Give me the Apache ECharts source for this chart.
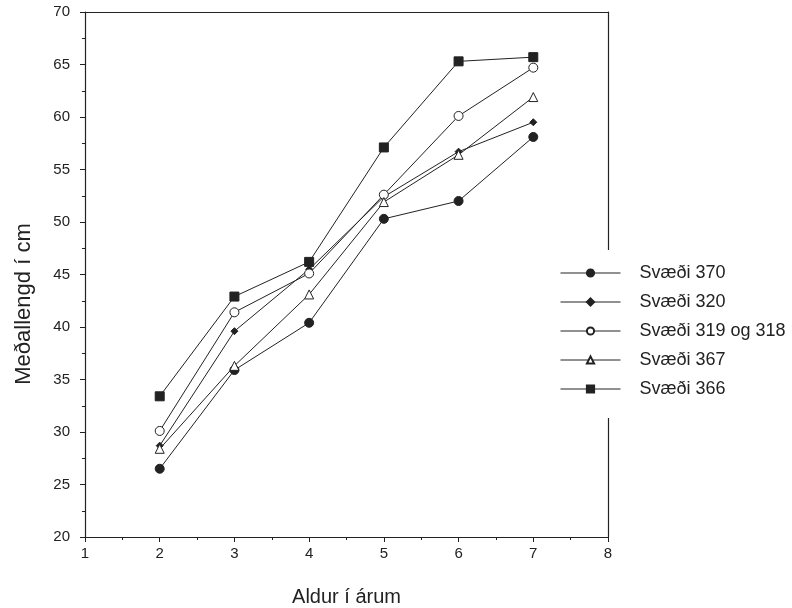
<!DOCTYPE html>
<html><head><meta charset="utf-8">
<script src="https://cdn.jsdelivr.net/npm/echarts@6/dist/echarts.min.js"></script>
<style>html,body{margin:0;padding:0;background:#fff}#c{width:792px;height:608px}</style>
</head><body><div id="c"></div>
<script>
const ages = [2, 3, 4, 5, 6, 7];
const s370 = [26.5, 35.9, 40.4, 50.3, 52.0, 58.1];
const s320 = [28.7, 39.6, 45.5, 52.4, 56.7, 59.5];
const s319 = [30.1, 41.4, 45.1, 52.6, 60.1, 64.7];
const s367 = [28.4, 36.3, 43.1, 51.9, 56.4, 61.9];
const s366 = [33.4, 42.9, 46.2, 57.1, 65.3, 65.7];
const names = ['Svæði 370', 'Svæði 320', 'Svæði 319 og 318', 'Svæði 367', 'Svæði 366'];
const xTitle = 'Aldur í árum';
const yTitle = 'Meðallengd í cm';

const ink = '#222';
const font = 'Liberation Sans, Arial, sans-serif';
function mk(name, data, symbol, size, fill) {
  return {
    name, type: 'line', data: ages.map((a, i) => [a, data[i]]),
    symbol, symbolSize: size, showSymbol: true,
    lineStyle: { color: ink, width: 1 },
    itemStyle: { color: fill, borderColor: ink, borderWidth: 1 },
    emphasis: { disabled: true }, z: 3
  };
}
const chart = echarts.init(document.getElementById('c'));
chart.setOption({
  animation: false,
  backgroundColor: '#fff',
  grid: { left: 85, right: 184, top: 12, bottom: 71, containLabel: false, outerBoundsMode: 'none' },
  xAxis: [{
    type: 'value', min: 1, max: 8, interval: 1,
    name: xTitle, nameLocation: 'middle', nameGap: 50,
    nameTextStyle: { fontFamily: font, fontSize: 20, color: ink },
    axisLine: { show: true, lineStyle: { color: ink, width: 1.2 } },
    axisTick: { show: true, length: 5, lineStyle: { color: ink } },
    minorTick: { show: true, splitNumber: 2, length: 3, lineStyle: { color: ink } },
    axisLabel: { fontFamily: font, fontSize: 15, color: ink, margin: 9 },
    splitLine: { show: false }
  }, {
    type: 'value', min: 1, max: 8, position: 'top',
    axisLine: { show: true, lineStyle: { color: ink, width: 1.2 } },
    axisTick: { show: false }, axisLabel: { show: false }, splitLine: { show: false }
  }],
  yAxis: [{
    type: 'value', min: 20, max: 70, interval: 5,
    axisLine: { show: true, lineStyle: { color: ink, width: 1.2 } },
    axisTick: { show: true, length: 5, lineStyle: { color: ink } },
    minorTick: { show: true, splitNumber: 2, length: 3, lineStyle: { color: ink } },
    axisLabel: { fontFamily: font, fontSize: 15, color: ink, margin: 15 },
    splitLine: { show: false }
  }, {
    type: 'value', min: 20, max: 70, position: 'right',
    axisLine: { show: true, lineStyle: { color: ink, width: 1.2 } },
    axisTick: { show: false }, axisLabel: { show: false }, splitLine: { show: false }
  }],
  graphic: [{
    type: 'text', left: 13, top: 'middle', y: 36,
    rotation: Math.PI / 2,
    style: { text: yTitle, fontFamily: font, fontSize: 22, fill: ink, textAlign: 'center', textVerticalAlign: 'middle' }
  }],
  legend: {
    orient: 'vertical', left: 556, top: 250,
    backgroundColor: '#fff', padding: [14, 4, 20, 4],
    itemWidth: 60, itemHeight: 9, itemGap: 11,
    lineStyle: { width: 1 },
    textStyle: { fontFamily: font, fontSize: 18, color: ink, padding: [0, 0, 0, 14] },
    data: names, selectedMode: false
  },
  series: [
    mk(names[0], s370, 'circle', 9, ink),
    mk(names[1], s320, 'diamond', 7, ink),
    mk(names[2], s319, 'circle', 9, '#fff'),
    mk(names[3], s367, 'triangle', 9, '#fff'),
    mk(names[4], s366, 'rect', 9, ink)
  ]
});
</script></body></html>
